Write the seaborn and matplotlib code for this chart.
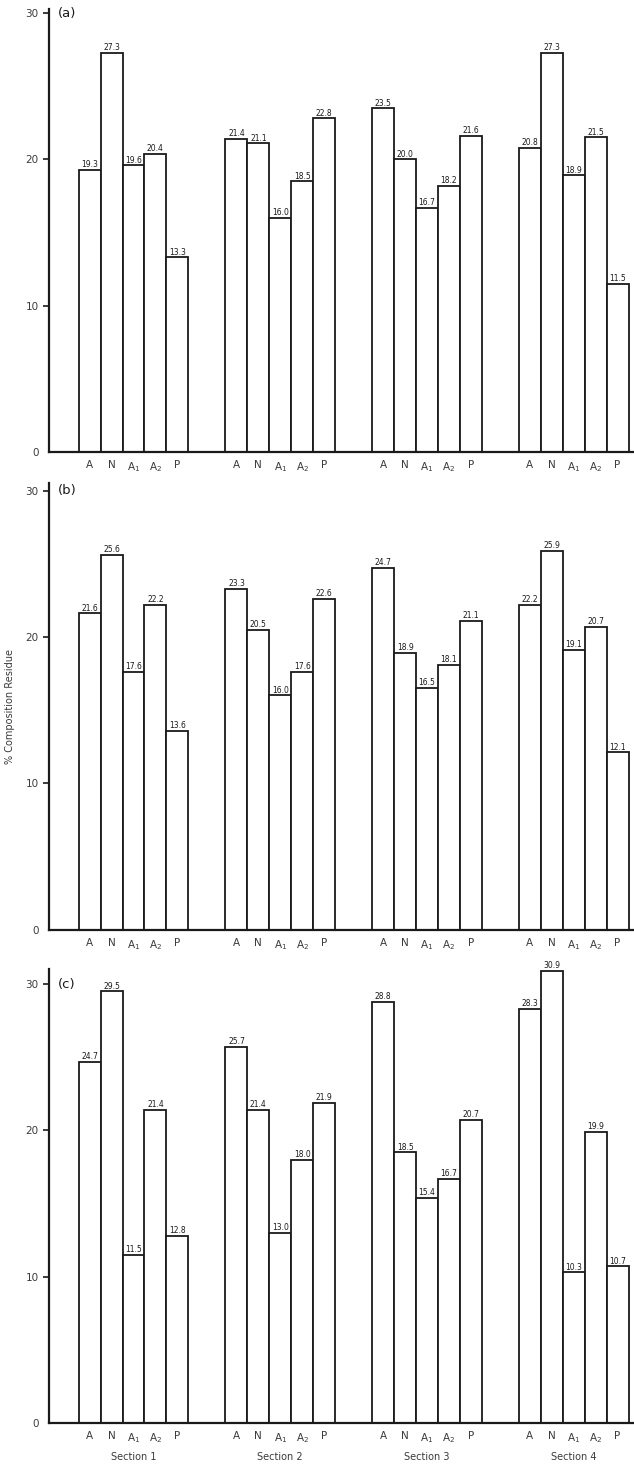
import numpy as np
import pandas as pd
import matplotlib
matplotlib.use("Agg")
import matplotlib.pyplot as plt
import seaborn as sns

# Residue classes within each section and the sections themselves
classes = ["A", "N", "A$_1$", "A$_2$", "P"]
sections = ["Section 1", "Section 2", "Section 3", "Section 4"]

# % composition residue, one list per section, in class order
panel_a = [
    [19.3, 27.3, 19.6, 20.4, 13.3],
    [21.4, 21.1, 16.0, 18.5, 22.8],
    [23.5, 20.0, 16.7, 18.2, 21.6],
    [20.8, 27.3, 18.9, 21.5, 11.5],
]
panel_b = [
    [21.6, 25.6, 17.6, 22.2, 13.6],
    [23.3, 20.5, 16.0, 17.6, 22.6],
    [24.7, 18.9, 16.5, 18.1, 21.1],
    [22.2, 25.9, 19.1, 20.7, 12.1],
]
panel_c = [
    [24.7, 29.5, 11.5, 21.4, 12.8],
    [25.7, 21.4, 13.0, 18.0, 21.9],
    [28.8, 18.5, 15.4, 16.7, 20.7],
    [28.3, 30.9, 10.3, 19.9, 10.7],
]
panel_tags = ["(a)", "(b)", "(c)"]
y_ticks = [0, 10, 20, 30]

sns.set_theme(style="white")
plt.rcParams["font.family"] = ["DejaVu Sans"]

GROUP_STEP = 6.7  # distance between section groups, in bar widths


def build_frame(values):
    rows = []
    for g, sec in enumerate(sections):
        for i, cls in enumerate(classes):
            rows.append({"section": sec, "cls": cls,
                         "pos": g * GROUP_STEP + i, "value": values[g][i]})
    return pd.DataFrame(rows)


W, H = 634, 1464
fig = plt.figure(figsize=(W / 100, H / 100), dpi=100)

# (zero line pixel, top limit) for each panel
layout = [(452.0, 30.3), (929.5, 30.5), (1423.0, 31.0)]
unit_px = 14.63
left_px = 48.5

ink = "#1a1a1a"
text_col = "#3a3a3a"

axes = []
for k, (values, (zero_px, ytop)) in enumerate(zip([panel_a, panel_b, panel_c], layout)):
    height_px = ytop * unit_px
    ax = fig.add_axes([left_px / W, (H - zero_px) / H,
                       (W - left_px) / W, height_px / H])
    df = build_frame(values)
    sns.barplot(data=df, x="pos", y="value", native_scale=True, width=1.0,
                color="white", saturation=1, edgecolor=ink, linewidth=1.3,
                errorbar=None, ax=ax)
    ax.set_xlim(-1.88, 24.85)
    ax.set_ylim(0, ytop)

    for c in ax.containers:
        ax.bar_label(c, fmt="%.1f", padding=0.5, fontsize=5.5, color=ink)

    ax.set_xticks(df["pos"].to_numpy())
    ax.set_xticklabels(df["cls"].tolist(), fontsize=7.5, color=text_col)
    ax.tick_params(axis="x", length=0, pad=6)

    ax.set_yticks(y_ticks)
    ax.set_yticklabels([str(t) for t in y_ticks], fontsize=7.5, color=text_col)
    ax.tick_params(axis="y", direction="out", length=4, width=1.2,
                   color=ink, pad=3, left=True)
    ax.yaxis.get_major_ticks()[0].tick1line.set_visible(False)

    for side in ["top", "right"]:
        ax.spines[side].set_visible(False)
    for side in ["left", "bottom"]:
        ax.spines[side].set_color(ink)
        ax.spines[side].set_linewidth(1.6)

    ax.set_xlabel("")
    ax.set_ylabel("")
    ax.text(0.016, 30, panel_tags[k], transform=ax.get_yaxis_transform(),
            fontsize=9.5, color=ink, va="center", ha="left")
    ax.patch.set_alpha(0)
    axes.append(ax)

axes[1].set_ylabel("% Composition Residue", fontsize=7, color=text_col)
axes[1].yaxis.set_label_coords(-0.057, 0.5)

# Section names under the bottom panel
for g, sec in enumerate(sections):
    axes[2].annotate(sec, xy=(g * GROUP_STEP + 2, 0),
                     xycoords=("data", "axes fraction"),
                     xytext=(0, -24.5), textcoords="offset points",
                     ha="center", va="center", fontsize=7, color=text_col)

fig.savefig("out.png", dpi=100, facecolor="white")
